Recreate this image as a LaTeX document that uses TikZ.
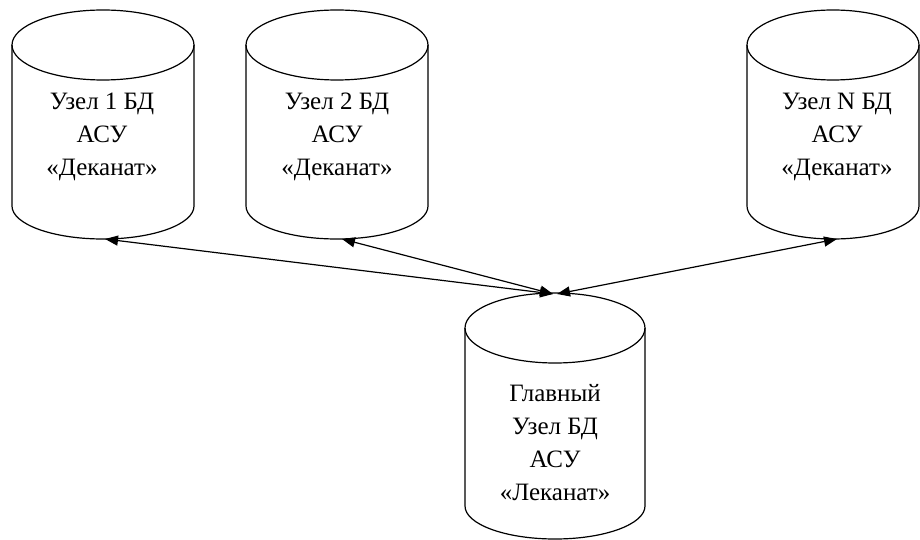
\documentclass[tikz,border=0pt]{standalone}
\usepackage{fontspec}
\setmainfont{Liberation Serif}
\usetikzlibrary{arrows.meta}
\newcommand\dbcyl[5]{% cx, top center y, bottom center y, rx, ry
  \draw[cylline] (#1pt-#4pt,#2pt) -- (#1pt-#4pt,#3pt)
    arc[start angle=180,end angle=360,x radius=#4pt,y radius=#5pt] -- (#1pt+#4pt,#2pt);
  \draw[cylline] (#1pt,#2pt) ellipse[x radius=#4pt,y radius=35pt];
}
\begin{document}
\begin{tikzpicture}[x=1pt,y=1pt,
  cylline/.style={line width=1.2pt},
  dbtext/.style={align=center,font=\rmfamily\fontsize{25}{33}\selectfont,inner sep=0pt},
  link/.style={line width=1.2pt,{Triangle[length=13pt,width=10pt]}-{Triangle[length=13pt,width=10pt]}}]
\useasboundingbox (0,0) rectangle (920,539);
\begin{scope}
\clip (0,0) rectangle (920,539);
\dbcyl{103}{494}{333}{91}{33}
\dbcyl{337}{494}{333}{91}{33}
\dbcyl{833}{494}{333}{86}{33}
\dbcyl{555}{211}{33}{90}{33}
\end{scope}
\node[dbtext] (t1) at (102,402) {Узел 1 БД\\АСУ\\«Деканат»};
\node[dbtext] (t2) at (337,402) {Узел 2 БД\\АСУ\\«Деканат»};
\node[dbtext] (tn) at (837,402) {Узел N БД\\АСУ\\«Деканат»};
\node[dbtext] (tm) at (555,96) {Главный\\Узел БД\\АСУ\\«Леканат»};
\coordinate (b1) at (105,300);
\coordinate (b2) at (342,300);
\coordinate (bn) at (837,300);
\coordinate (m1) at (553,245);
\coordinate (m2) at (557,245);
\draw[link] (b1) -- (m1);
\draw[link] (b2) -- (m1);
\draw[link] (bn) -- (m2);
\end{tikzpicture}
\end{document}
